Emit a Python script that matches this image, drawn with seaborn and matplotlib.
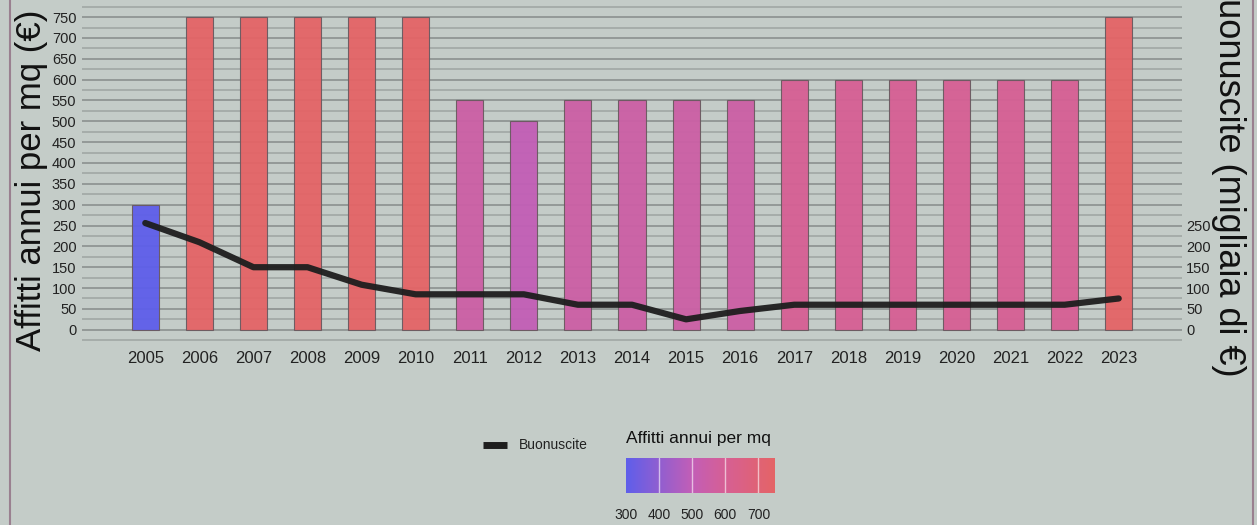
import numpy as np
import pandas as pd
import matplotlib
matplotlib.use("Agg")
import matplotlib.pyplot as plt
import matplotlib.colors as mcolors
from matplotlib.lines import Line2D
import seaborn as sns

# data
years = ["2005", "2006", "2007", "2008", "2009", "2010", "2011", "2012", "2013", "2014",
         "2015", "2016", "2017", "2018", "2019", "2020", "2021", "2022", "2023"]
affitti = [300, 750, 750, 750, 750, 750, 550, 500, 550, 550,
           550, 550, 600, 600, 600, 600, 600, 600, 750]
buonuscite = [256, 210, 150, 150, 108, 85, 85, 85, 60, 60,
              25, 45, 60, 60, 60, 60, 60, 60, 75]

left_ticks = list(range(0, 751, 50))
right_ticks = list(range(0, 251, 50))
cbar_ticks = [300, 400, 500, 600, 700]

bg = "#c4ccc8"
sns.set_theme(style="white")
plt.rcParams['font.family'] = ['Liberation Sans', 'DejaVu Sans']

cmap = mcolors.LinearSegmentedColormap.from_list(
    "affitti", [(0.0, "#5e5eea"), (0.444, "#c25eb6"), (0.667, "#d65f94"), (1.0, "#e46466")])
norm = mcolors.Normalize(vmin=300, vmax=750)

df = pd.DataFrame({"anno": years, "affitti": affitti, "buonuscite": buonuscite})
pal = {y: cmap(norm(v)) for y, v in zip(years, affitti)}

fig = plt.figure(figsize=(12.57, 5.25), dpi=100, facecolor=bg)
ax = fig.add_axes([82 / 1257, 184 / 525, 1100 / 1257, 341 / 525])
ax.set_facecolor(bg)

# gridlines every 25, darker every 50
for v in range(-25, 800, 25):
    ax.axhline(v, color="#8f9593" if v % 50 == 0 else "#a3aaa7", lw=1.3, zorder=0)

sns.barplot(data=df, x="anno", y="affitti", hue="anno", palette=pal, legend=False,
            width=0.5, saturation=1, edgecolor="#6a5a60", linewidth=0.8, alpha=0.95,
            ax=ax, zorder=2)

ax.set_xlim(-1.17, len(years) - 1 + 1.17)
ax.set_ylim(-27, 791)
ax.set_yticks(left_ticks)
ax.tick_params(axis="y", labelsize=10.5, length=0, pad=4, colors="#222222")
ax.tick_params(axis="x", labelsize=12, length=0, pad=7, colors="#222222")
ax.set_xlabel("")
ax.set_ylabel("Affitti annui per mq (€)", fontsize=25, color="#111111")
ax.yaxis.set_label_coords(-0.031, 0.472)
for s in ax.spines.values():
    s.set_visible(False)

ax2 = ax.twinx()
sns.lineplot(x=np.arange(len(years)), y=buonuscite, color="#1e1e1e", lw=4.5, alpha=0.95,
             ax=ax2, zorder=3)
ax2.set_ylim(-27, 791)
ax2.set_yticks(right_ticks)
ax2.tick_params(axis="y", labelsize=10.5, length=0, pad=3, colors="#222222")
ax2.set_ylabel("Buonuscite (migliaia di €)", fontsize=26, rotation=270, color="#111111")
ax2.yaxis.set_label_coords(1.0585, 0.487)
for s in ax2.spines.values():
    s.set_visible(False)

# outer frame lines
fig.add_artist(Line2D([10 / 1257, 10 / 1257], [0, 1], color="#9a8090", lw=1.5))
fig.add_artist(Line2D([1253 / 1257, 1253 / 1257], [0, 1], color="#9a8090", lw=1.5))

# legend for the line
fig.add_artist(Line2D([483 / 1257, 507 / 1257], [80 / 525, 80 / 525], color="#1e1e1e",
                      lw=5, solid_capstyle="butt"))
fig.text(519 / 1257, 80 / 525, "Buonuscite", fontsize=10, va="center", ha="left",
         color="#222222")

# colour legend
cax = fig.add_axes([626 / 1257, 32 / 525, 149 / 1257, 35 / 525])
cb = matplotlib.colorbar.ColorbarBase(cax, cmap=cmap, norm=norm, orientation="horizontal")
cb.outline.set_visible(False)
cb.set_ticks(cbar_ticks)
cax.tick_params(axis="x", length=0, pad=11, labelsize=10, colors="#222222")
for t in cbar_ticks[1:]:
    cax.axvline(t, color="white", lw=1, alpha=0.6)
fig.text(626 / 1257, 87 / 525, "Affitti annui per mq", fontsize=12.5, ha="left", va="center",
         color="#111111")

fig.savefig("out.png", dpi=100, facecolor=bg)
